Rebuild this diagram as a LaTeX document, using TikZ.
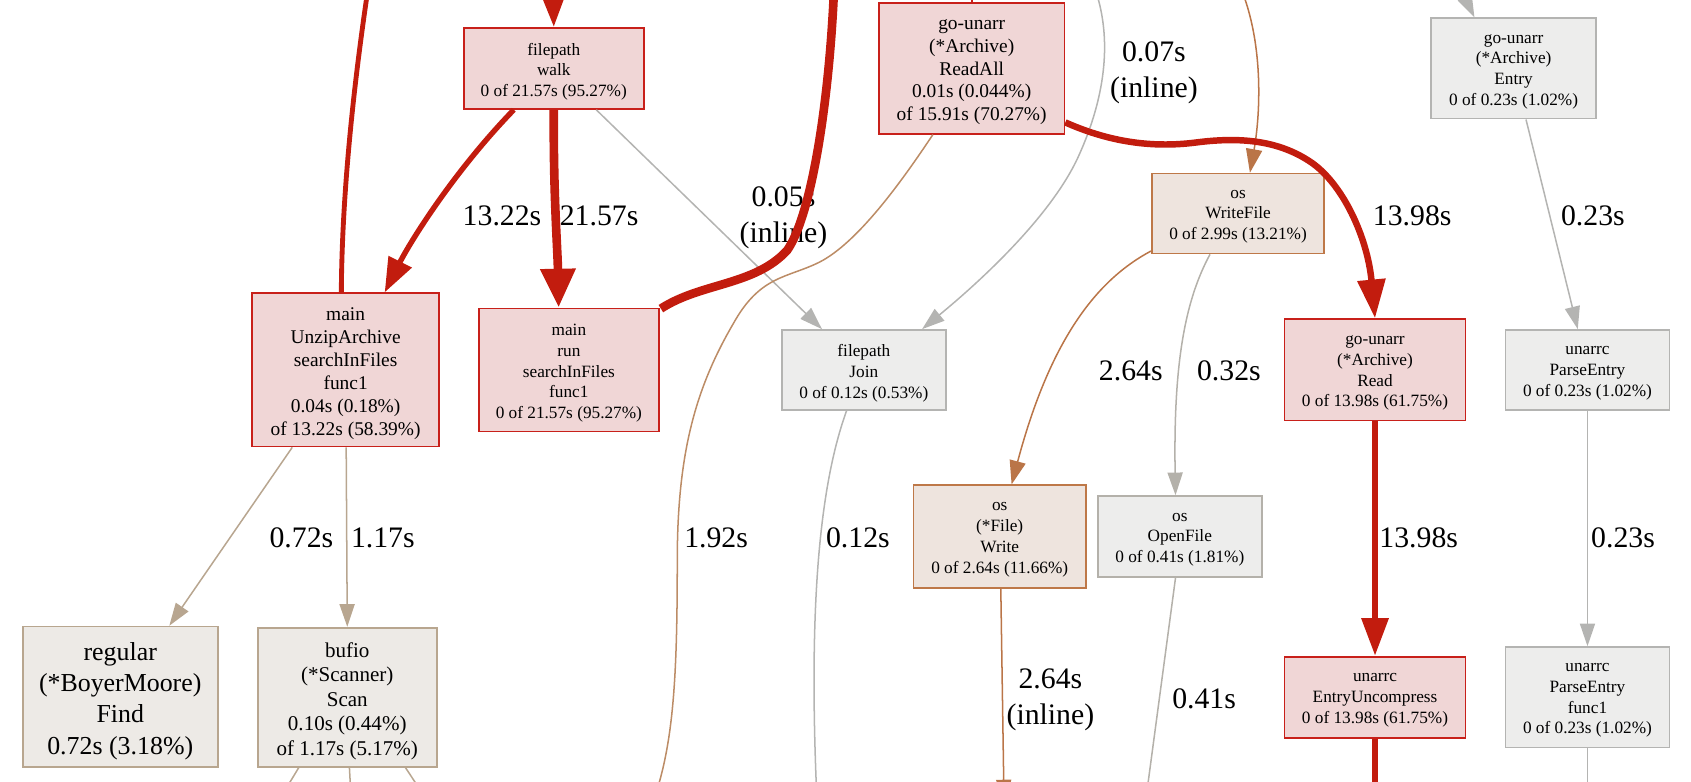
\documentclass[tikz,border=0pt]{standalone}
\usepackage{fontspec}
\setmainfont{Liberation Serif}
\usetikzlibrary{arrows.meta,calc}
\definecolor{redB}{HTML}{C8201A}
\definecolor{redF}{HTML}{F0D6D6}
\definecolor{redE}{HTML}{C21C0E}
\definecolor{grayB}{HTML}{B4B4B2}
\definecolor{grayF}{HTML}{EDEDEC}
\definecolor{tanB}{HTML}{B8A68F}
\definecolor{tanF}{HTML}{EDEAE6}
\definecolor{tanE}{HTML}{B8A690}
\definecolor{brownB}{HTML}{BE7848}
\definecolor{brownF}{HTML}{EEE4DE}
\definecolor{brownE}{HTML}{BA7548}
\definecolor{ltbrownE}{HTML}{BC8C66}
\definecolor{ograyB}{HTML}{B4B1AA}
\tikzset{
  fbox/.style={draw, rectangle, line width=1.6pt, inner sep=0pt, anchor=center},
  redbox/.style={fbox, draw=redB, fill=redF},
  graybox/.style={fbox, draw=grayB, fill=grayF},
  tanbox/.style={fbox, draw=tanB, fill=tanF},
  brownbox/.style={fbox, draw=brownB, fill=brownF},
  ograybox/.style={fbox, draw=ograyB, fill=grayF},
  tx/.style={align=center, inner sep=0pt},
  sm/.style={tx, font=\fontsize{16}{19.3}\selectfont, yshift=-3pt},
  md/.style={tx, font=\fontsize{18}{21.2}\selectfont, yshift=-3.4pt},
  lg/.style={tx, font=\fontsize{24}{29}\selectfont, yshift=-4pt},
  mdl/.style={tx, font=\fontsize{19.5}{22.8}\selectfont, yshift=-3.6pt},
  elabel/.style={font=\fontsize{27.6}{33.3}\selectfont, inner sep=0pt, align=center},
  thinarrow/.style={-{Triangle[length=21pt,width=14pt]}},
  grayedge/.style={draw=grayB, line width=1.4pt},
  tanedge/.style={draw=tanE, line width=1.4pt},
  brownedge/.style={draw=brownE, line width=1.4pt},
}
\begin{document}
\begin{tikzpicture}[x=1pt,y=-1pt]
\useasboundingbox (0,0) rectangle (1568,725);
\clip (0,0) rectangle (1568,725);

% nodes
\node[redbox, minimum width=167pt, minimum height=75pt, label={[sm]center:filepath\\walk\\0 of 21.57s (95.27\%)}] (walk) at (513.5,63.5) {};
\node[redbox, minimum width=173pt, minimum height=142pt, label={[md]center:main\\UnzipArchive\\searchInFiles\\func1\\0.04s (0.18\%)\\of 13.22s (58.39\%)}] (unzip) at (320.5,343) {};
\node[redbox, minimum width=167pt, minimum height=114pt, label={[sm]center:main\\run\\searchInFiles\\func1\\0 of 21.57s (95.27\%)}] (run) at (527.5,343) {};
\node[redbox, minimum width=172pt, minimum height=121pt, label={[md]center:go-unarr\\(*Archive)\\ReadAll\\0.01s (0.044\%)\\of 15.91s (70.27\%)}] (readall) at (901,63.5) {};
\node[graybox, minimum width=152pt, minimum height=74pt, label={[sm]center:filepath\\Join\\0 of 0.12s (0.53\%)}] (join) at (801,343) {};
\node[brownbox, minimum width=160pt, minimum height=74pt, label={[sm]center:os\\WriteFile\\0 of 2.99s (13.21\%)}] (writefile) at (1148,198) {};
\node[graybox, minimum width=153pt, minimum height=93pt, label={[sm]center:go-unarr\\(*Archive)\\Entry\\0 of 0.23s (1.02\%)}] (entry) at (1403.5,63.5) {};
\node[redbox, minimum width=168pt, minimum height=94pt, label={[sm]center:go-unarr\\(*Archive)\\Read\\0 of 13.98s (61.75\%)}] (read) at (1275,343) {};
\node[graybox, minimum width=152pt, minimum height=74pt, label={[sm]center:unarrc\\ParseEntry\\0 of 0.23s (1.02\%)}] (parseentry) at (1472,343) {};
\node[tanbox, minimum width=181pt, minimum height=130pt, label={[lg]center:regular\\(*BoyerMoore)\\Find\\0.72s (3.18\%)}] (regular) at (111.5,646) {};
\node[tanbox, minimum width=166pt, minimum height=129pt, label={[mdl]center:bufio\\(*Scanner)\\Scan\\0.10s (0.44\%)\\of 1.17s (5.17\%)}] (bufio) at (322,646.5) {};
\node[brownbox, minimum width=160pt, minimum height=95pt, label={[sm]center:os\\(*File)\\Write\\0 of 2.64s (11.66\%)}] (filewrite) at (927,497.5) {};
\node[ograybox, minimum width=152pt, minimum height=75pt, label={[sm]center:os\\OpenFile\\0 of 0.41s (1.81\%)}] (openfile) at (1094,497.5) {};
\node[redbox, minimum width=168pt, minimum height=75pt, label={[sm]center:unarrc\\EntryUncompress\\0 of 13.98s (61.75\%)}] (entryunc) at (1275,646.5) {};
\node[graybox, minimum width=152pt, minimum height=93pt, label={[sm]center:unarrc\\ParseEntry\\func1\\0 of 0.23s (1.02\%)}] (parsefunc1) at (1472,646.5) {};

% off-canvas coordinates
\coordinate (topA) at (340,-2);
\coordinate (topB) at (512.5,-40);
\coordinate (topF) at (773,-2);
\coordinate (topH) at (1018,-2);
\coordinate (topI) at (1154,-2);
\coordinate (topK) at (1345,-30);
\coordinate (topR) at (901,-6);
\coordinate (botG) at (610,730);
\coordinate (botS) at (757,730);
\coordinate (botT) at (931,744);
\coordinate (botU) at (1064,730);
\coordinate (botV) at (1275,730);
\coordinate (botW) at (1472,730);
\coordinate (botX1) at (266,730);
\coordinate (botX2) at (325,730);
\coordinate (botX3) at (388,730);

% edge labels
\node[elabel] (l1) at (465.5,200) {13.22s};
\node[elabel] (l2) at (555.5,200) {21.57s};
\node[elabel] (l3) at (726.5,202) {0.05s\\(inline)};
\node[elabel] (l4) at (1070,67.8) {0.07s\\(inline)};
\node[elabel] (l5) at (1309.5,200) {13.98s};
\node[elabel] (l6) at (1477,200) {0.23s};
\node[elabel] (l7) at (1048.5,344) {2.64s};
\node[elabel] (l8) at (1139.5,344) {0.32s};
\node[elabel] (l9) at (279.5,499) {0.72s};
\node[elabel] (l10) at (355,499) {1.17s};
\node[elabel] (l11) at (664,499) {1.92s};
\node[elabel] (l12) at (795.5,499) {0.12s};
\node[elabel] (l13) at (1315.5,499) {13.98s};
\node[elabel] (l14) at (1505,499) {0.23s};
\node[elabel] (l15) at (974,649) {2.64s\\(inline)};
\node[elabel] (l16) at (1116.5,648) {0.41s};

% thin edges
\draw[grayedge, thinarrow] (walk) -- (join);
\draw[grayedge, thinarrow] (topH) .. controls (1030,40) and (1025,90) .. (1000,145)
   .. controls (975,200) and (910,260) .. ($(join.north)+(54,0)$);
\draw[brownedge, -{Triangle[length=22pt,width=15pt]}] (topI) .. controls (1172,50) and (1168,110) .. ($(writefile.north)+(11,0)$);
\draw[grayedge, thinarrow] (topK) -- ($(entry.north west)+(41,0)$);
\draw[grayedge, thinarrow] ($(entry.south)+(11.5,0)$) -- ($(parseentry.north)+(-9,0)$);
\draw[brownedge, -{Triangle[length=22pt,width=15pt]}] ($(writefile.south west)+(0,-3)$) .. controls (1020,258) and (975,310) .. ($(filewrite.north)+(11,0)$);
\draw[draw=ograyB, line width=1.4pt, thinarrow] ($(writefile.south)+(-26,0)$) .. controls (1098,280) and (1088,340) .. ($(openfile.north)+(-4,0)$);
\draw[grayedge, thinarrow] (parseentry) -- (parsefunc1);
\draw[tanedge, thinarrow] ($(unzip.south)+(-49.5,0)$) -- ($(regular.north)+(45.5,0)$);
\draw[tanedge, thinarrow] ($(unzip.south)+(0.5,0)$) -- (bufio.north);
\draw[grayedge] ($(join.south)+(-16,0)$) .. controls (760,450) and (750,560) .. (botS);
\draw[brownedge, thinarrow] ($(filewrite.south)+(1,0)$) -- (botT);
\draw[draw=ograyB, line width=1.4pt] ($(openfile.south)+(-4,0)$) -- (botU);
\draw[grayedge] (parsefunc1.south) -- (botW);
\draw[tanedge] ($(bufio.south)+(-45,0)$) -- (botX1);
\draw[tanedge] ($(bufio.south)+(2,0)$) -- (botX2);
\draw[tanedge] ($(bufio.south)+(54,0)$) -- (botX3);
\draw[draw=ltbrownE, line width=1.4pt] ($(readall.south)+(-36,0)$) .. controls (835,170) and (795,225) .. (760,243)
   .. controls (730,258) and (705,255) .. (680,300)
   .. controls (645,360) and (628,420) .. (628,520)
   .. controls (628,620) and (625,680) .. (botG);

% thick edges
\draw[draw=redE, line width=4.5pt] ($(unzip.north)+(-4,0)$) .. controls (317,180) and (328,80) .. (topA);
\draw[draw=redE, line width=6pt, -{Triangle[length=34pt,width=24pt]}] (topB) -- (walk.north);
\draw[draw=redE, line width=5pt, -{Triangle[length=32pt,width=23pt]}] (walk) .. controls (420,160) and (380,225) .. (unzip);
\draw[draw=redE, line width=8pt, -{Triangle[length=36pt,width=31pt]}] (walk.south) .. controls (513,180) and (517,230) .. ($(run.north)+(-9.5,0)$);
\draw[draw=redE, line width=8pt] ($(run.north east)+(1,1)$) .. controls (650,262) and (700,265) .. (730,232)
   .. controls (752,200) and (768,100) .. (topF);
\draw[draw=redE, line width=6pt, -{Triangle[length=36pt,width=25pt]}] ($(readall.east)+(0,50)$) .. controls (1025,130) and (1065,138) .. (1110,132)
   .. controls (1150,127) and (1185,130) .. (1215,150)
   .. controls (1245,170) and (1268,220) .. (read.north);
\draw[draw=redE, line width=6pt, -{Triangle[length=35pt,width=24pt]}] (read) -- (entryunc);
\draw[draw=redE, line width=6pt] (entryunc.south) -- (botV);
\draw[draw=redB, line width=1.6pt] (topR) -- (readall.north);
\end{tikzpicture}
\end{document}
